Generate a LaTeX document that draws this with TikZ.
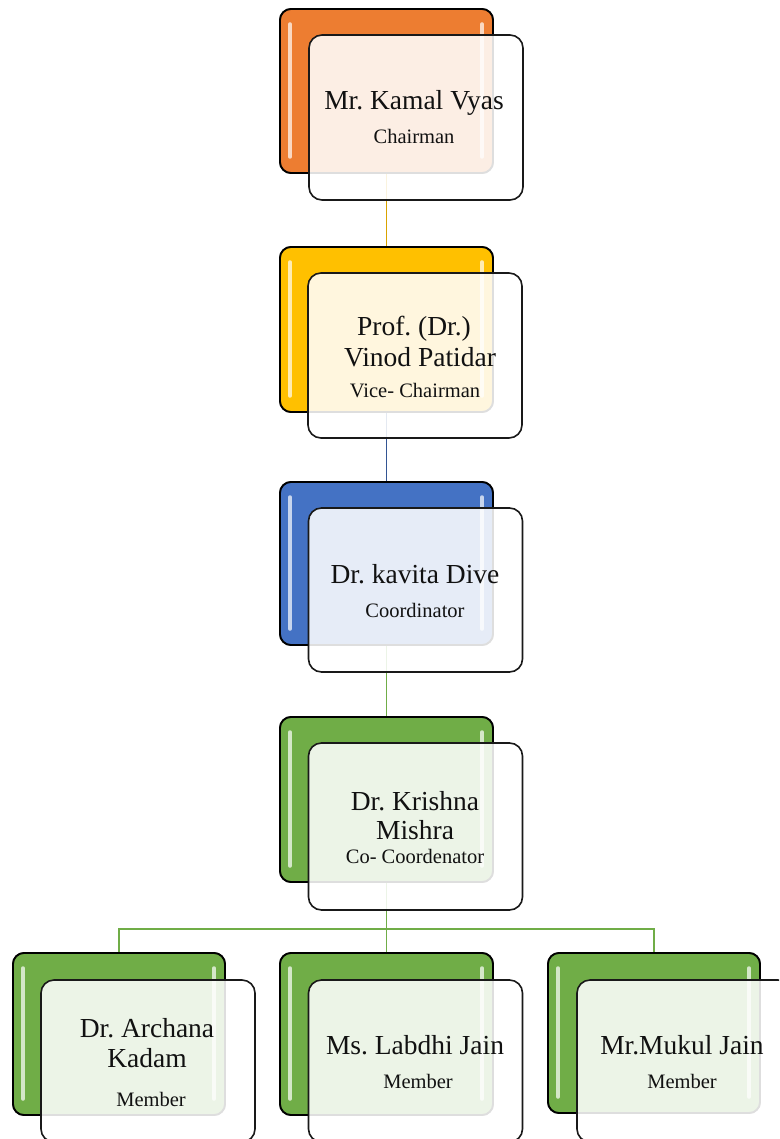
\documentclass[tikz,border=0pt]{standalone}
\usepackage{fontspec}
\setmainfont{Liberation Serif}
\frenchspacing
\usetikzlibrary{calc}
\definecolor{orangeC}{HTML}{ED7D31}
\definecolor{goldC}{HTML}{FFC000}
\definecolor{blueC}{HTML}{4472C4}
\definecolor{greenC}{HTML}{70AD47}
\definecolor{txt}{HTML}{111111}
\tikzset{
  backbox/.style={draw=black, line width=1.8, rounded corners=11, inner sep=0, outer sep=0,
    minimum width=213, minimum height=164},
  frontbox/.style={draw=black!90, line width=1.6, rounded corners=13, inner sep=0, outer sep=0,
    fill=white, fill opacity=0.87, draw opacity=1, minimum width=214, minimum height=165},
  strip/.style={line width=3.5, line cap=round},
  link/.style={line width=1.6},
  bigtxt/.style={text=txt, inner sep=0, anchor=base, font=\fontsize{27.5}{30}\selectfont},
  smalltxt/.style={text=txt, inner sep=0, anchor=base, font=\fontsize{20.5}{23}\selectfont}
}
\begin{document}
\begin{tikzpicture}[x=1pt,y=-1pt]
\useasboundingbox (0,0) rectangle (779,1139);
\clip (0,0) rectangle (779,1139);
\fill[white] (0,0) rectangle (779,1139);

% back boxes (positions only, drawn later)
\path
  (386.5,91)  node[backbox, minimum height=164] (b1) {}
  (386.5,329.5) node[backbox, minimum height=165] (b2) {}
  (386.5,563.5) node[backbox, minimum height=163] (b3) {}
  (386.5,799.5) node[backbox, minimum height=165] (b4) {}
  (119,1034)  node[backbox, minimum width=212, minimum height=162] (bL) {}
  (386.5,1034) node[backbox, minimum height=162] (bM) {}
  (654,1033)  node[backbox, minimum width=212, minimum height=160] (bR) {};

% connectors
\coordinate (j) at (386.5,929);
\draw[link, goldC!85!black] (b1.south) -- (b2.north);
\draw[link, blueC!75!black] (b2.south) -- (b3.north);
\draw[link, greenC] (b3.south) -- (b4.north);
\draw[link, greenC] (b4.south) -- (j);
\draw[link, greenC] (bL.north) -- (bL.north |- j) -- (bR.north |- j) -- (bR.north);
\draw[link, greenC] (j) -- (bM.north);

% back boxes with highlights
\foreach \n/\c in {b1/orangeC, b2/goldC, b3/blueC, b4/greenC, bL/greenC, bM/greenC, bR/greenC}{
  \draw[line width=1.8, rounded corners=11, fill=\c] (\n.north west) rectangle (\n.south east);
  \draw[strip, \c!30!white] ($(\n.north west)+(10,15)$) -- ($(\n.south west)+(10,-16)$);
  \draw[strip, \c!30!white] ($(\n.north east)+(-11,15)$) -- ($(\n.south east)+(-11,-16)$);
}

% front boxes
\node[frontbox] (f1) at (416,117.5) {};
\node[frontbox] (f2) at (415,355.5) {};
\node[frontbox, minimum height=164] (f3) at (415.5,590) {};
\node[frontbox, minimum height=167] (f4) at (415.5,826.5) {};
\node[frontbox, minimum height=162] (fL) at (148,1061) {};
\node[frontbox, minimum height=162] (fM) at (415.5,1061) {};
\node[frontbox, minimum height=162] (fR) at (684,1061) {};

% texts
\node[bigtxt] (t1a) at (414,110) {Mr. Kamal Vyas};
\node[smalltxt] (t1b) at (414,144) {Chairman};

\node[bigtxt] (t2a) at (414,335) {Prof. (Dr.)};
\node[bigtxt] (t2b) at (420,366) {Vinod Patidar};
\node[smalltxt] (t2c) at (415,397) {Vice- Chairman};

\node[bigtxt] (t3a) at (415,583) {Dr. kavita Dive};
\node[smalltxt] (t3b) at (415,617) {Coordinator};

\node[bigtxt] (t4a) at (415,810) {Dr. Krishna};
\node[bigtxt] (t4b) at (415,839) {Mishra};
\node[smalltxt] (t4c) at (415,863) {Co- Coordenator};

\node[bigtxt] (tLa) at (147,1037) {Dr. Archana};
\node[bigtxt] (tLb) at (147,1067) {Kadam};
\node[smalltxt] (tLc) at (151,1106) {Member};

\node[bigtxt] (tMa) at (415,1054) {Ms. Labdhi Jain};
\node[smalltxt] (tMb) at (418,1088) {Member};

\node[bigtxt] (tRa) at (682,1054) {Mr.Mukul Jain};
\node[smalltxt] (tRb) at (682,1088) {Member};
\end{tikzpicture}
\end{document}
